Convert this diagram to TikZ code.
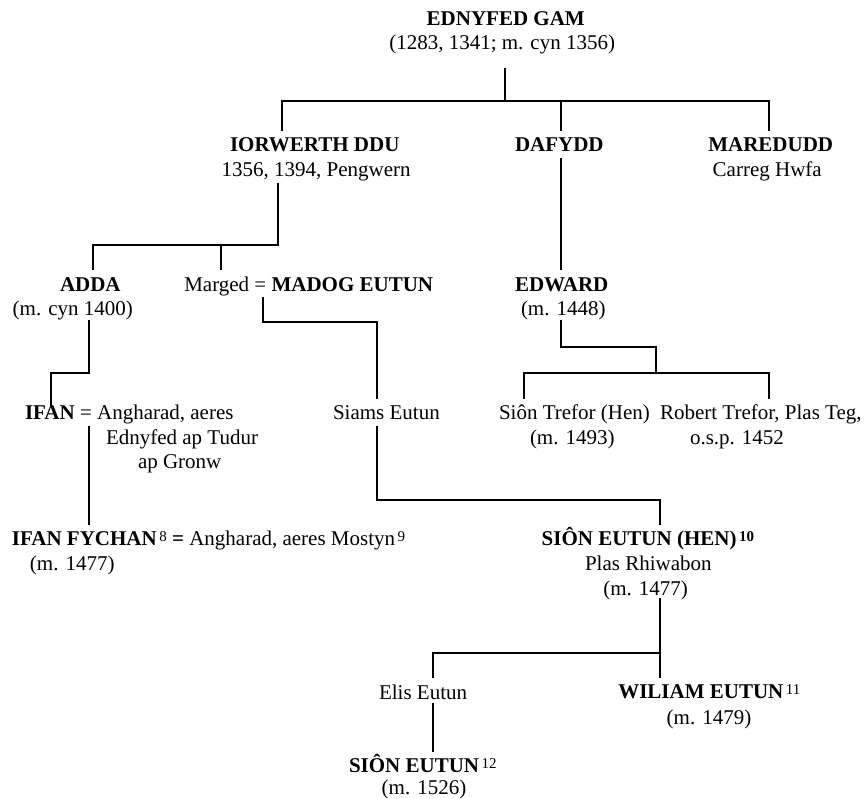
\documentclass[tikz,border=0pt]{standalone}
\usepackage{fontspec}
\setmainfont{Liberation Serif}
\newcommand{\mysup}[1]{\hspace{2.5pt}\raisebox{4pt}{\fontsize{15}{15}\selectfont\mdseries #1}}
\tikzset{
  lbl/.style={inner sep=0pt, outer sep=0pt, anchor=base west, font=\fontsize{21}{25}\selectfont},
  nm/.style={lbl, font=\fontsize{21}{25}\selectfont\bfseries},
  conn/.style={line width=2.2pt, line join=miter, line cap=butt, draw=black}
}
\begin{document}
\begin{tikzpicture}[x=1pt,y=-1pt]
\useasboundingbox[fill=white] (0,0) rectangle (868,799);
% ---- people ----
\node[nm]  (ednyfed)  at (426.7,26)  {EDNYFED GAM};
\node[lbl] (ednyfedd) at (389.3,50)  {(1283, 1341; m. cyn 1356)};
\node[nm]  (iorwerth) at (230,152)   {IORWERTH DDU};
\node[lbl] (iorwerthd) at (221.7,177) {1356, 1394, Pengwern};
\node[nm]  (dafydd)   at (515,152)   {DAFYDD};
\node[nm]  (maredudd) at (708.3,152) {MAREDUDD};
\node[lbl] (maredudd2) at (712.7,177) {Carreg Hwfa};
\node[nm]  (adda)     at (60,292)    {ADDA};
\node[lbl] (addad)    at (12.7,316)  {(m. cyn 1400)};
\node[lbl] (madog)    at (184.3,292) {Marged = \textbf{MADOG EUTUN}};
\node[nm]  (edward)   at (515,292)   {EDWARD};
\node[lbl] (edwardd)  at (521,316)   {(m. 1448)};
\node[lbl] (ifan)     at (25,420)    {\textbf{IFAN} = Angharad, aeres};
\node[lbl] (ifan2)    at (106,445)   {Ednyfed ap Tudur};
\node[lbl] (ifan3)    at (138,469)   {ap Gronw};
\node[lbl] (siams)    at (333,420)   {Siams Eutun};
\node[lbl] (siont)    at (499,420)   {Siôn Trefor (Hen)};
\node[lbl] (siontd)   at (530,445)   {(m. 1493)};
\node[lbl] (robert)   at (660,420)   {Robert Trefor, Plas Teg,};
\node[lbl] (robertd)  at (690,445)   {o.s.p. 1452};
\node[lbl] (ifanf)    at (12,545)    {\textbf{IFAN FYCHAN}\mysup{8} \textbf{=} Angharad, aeres Mostyn\mysup{9}};
\node[lbl] (ifanfd)   at (30,570)    {(m. 1477)};
\node[nm]  (sione)    at (541.7,545) {SIÔN EUTUN (HEN)\mysup{\bfseries 10}};
\node[lbl] (sione2)   at (585,570)   {Plas Rhiwabon};
\node[lbl] (sioned)   at (603.3,595) {(m. 1477)};
\node[lbl] (elis)     at (379,699)   {Elis Eutun};
\node[nm]  (wiliam)   at (618.3,698.5) {WILIAM EUTUN\mysup{11}};
\node[lbl] (wiliamd)  at (666.7,724) {(m. 1479)};
\node[nm]  (sionf)    at (349,772)   {SIÔN EUTUN\mysup{12}};
\node[lbl] (sionfd)   at (381.7,794) {(m. 1526)};
% ---- connector points ----
\coordinate (e0) at (505,68);
\coordinate (e1) at (505,101);
\coordinate (ia) at (282,131);
\coordinate (ib) at (282,101);
\coordinate (ma) at (769,101);
\coordinate (mb) at (769,131);
\coordinate (da) at (561,101);
\coordinate (db) at (561,131);
\coordinate (i0) at (278,183);
\coordinate (i1) at (278,245);
\coordinate (i2) at (93,245);
\coordinate (i3) at (93,270);
\coordinate (i4) at (221,245);
\coordinate (i5) at (221,270);
\coordinate (d0) at (561,158);
\coordinate (d1) at (561,270);
\coordinate (a0) at (89,320);
\coordinate (a1) at (89,373);
\coordinate (a2) at (51,373);
\coordinate (a3) at (51,407);
\coordinate (m0) at (263,297);
\coordinate (m1) at (263,322);
\coordinate (m2) at (377,322);
\coordinate (m3) at (377,399);
\coordinate (s0) at (377,426);
\coordinate (s1) at (377,500);
\coordinate (s2) at (660,500);
\coordinate (s3) at (660,525);
\coordinate (w0) at (561,320);
\coordinate (w1) at (561,347);
\coordinate (w2) at (656,347);
\coordinate (w3) at (656,373);
\coordinate (t0) at (524,399);
\coordinate (t1) at (524,373);
\coordinate (t2) at (769,373);
\coordinate (t3) at (769,399);
\coordinate (f0) at (89,426);
\coordinate (f1) at (89,525);
\coordinate (h0) at (660,598);
\coordinate (h1) at (660,678);
\coordinate (h2) at (660,653);
\coordinate (h3) at (433,653);
\coordinate (h4) at (433,678);
\coordinate (l0) at (433,703);
\coordinate (l1) at (433,752);
% ---- connectors ----
\draw[conn] (e0) -- (e1);
\draw[conn] (ia) -- (ib) -- (ma) -- (mb);
\draw[conn] (da) -- (db);
\draw[conn] (i0) -- (i1) -- (i2) -- (i3);
\draw[conn] (i4) -- (i5);
\draw[conn] (d0) -- (d1);
\draw[conn] (a0) -- (a1) -- (a2) -- (a3);
\draw[conn] (m0) -- (m1) -- (m2) -- (m3);
\draw[conn] (s0) -- (s1) -- (s2) -- (s3);
\draw[conn] (w0) -- (w1) -- (w2) -- (w3);
\draw[conn] (t0) -- (t1) -- (t2) -- (t3);
\draw[conn] (f0) -- (f1);
\draw[conn] (h0) -- (h1);
\draw[conn] (h2) -- (h3) -- (h4);
\draw[conn] (l0) -- (l1);
\end{tikzpicture}
\end{document}
